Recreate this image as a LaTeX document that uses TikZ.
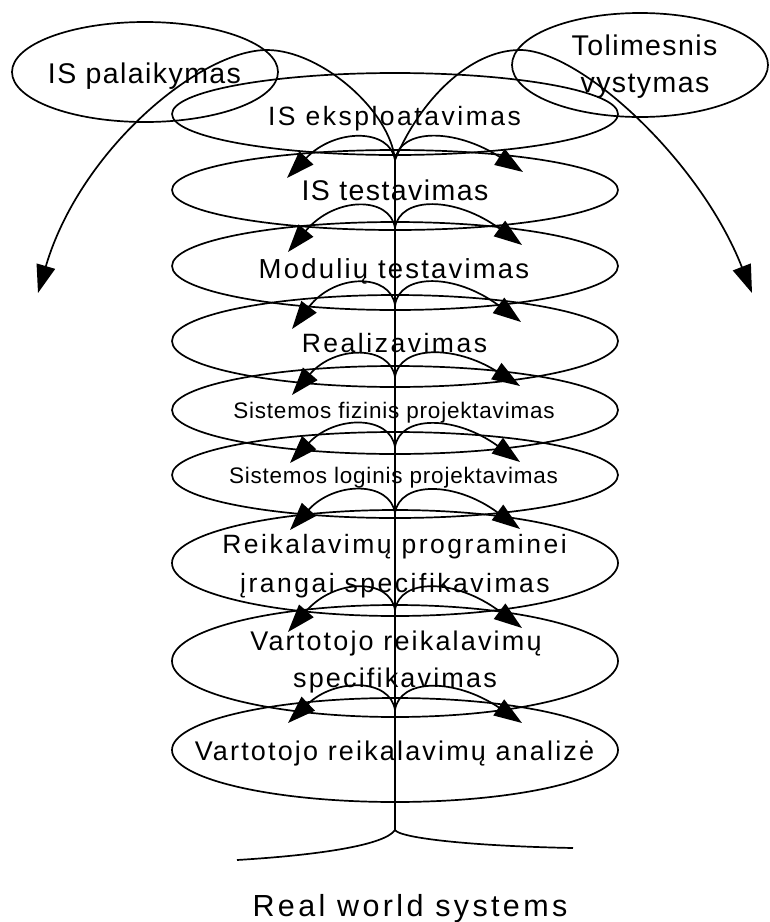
\documentclass[tikz,border=0pt]{standalone}
\usepackage{fontspec}
\setmainfont{Liberation Sans}
\newfontfamily\fLa[LetterSpace=5]{Liberation Sans}
\newfontfamily\fLb[LetterSpace=8]{Liberation Sans}
\newfontfamily\fLc[LetterSpace=9.5]{Liberation Sans}
\newfontfamily\fLs[LetterSpace=3.5]{Liberation Sans}
\newfontfamily\fLr[LetterSpace=11]{Liberation Sans}
\usetikzlibrary{arrows.meta,shapes.geometric}
\begin{document}
\begin{tikzpicture}[x=1pt,y=-1pt, line width=1.7pt,
  ell/.style={draw, ellipse, inner sep=0pt, minimum width=446pt},
  txt/.style={inner sep=0pt, anchor=base},
  arr/.style={-{Triangle[length=28pt,width=19pt]}}]
\useasboundingbox (0,0) rectangle (770,922);
% ellipses
\node[ell, minimum width=266pt, minimum height=100pt] (pal) at (145,72) {};
\node[ell, minimum width=256pt, minimum height=104pt] (tol) at (640,65) {};
\node[ell, minimum height=82pt] (eks) at (395,114) {};
\node[ell, minimum height=80pt] (tst) at (395,190) {};
\node[ell, minimum height=88pt] (mod) at (395,266) {};
\node[ell, minimum height=92pt] (rea) at (395,341) {};
\node[ell, minimum height=88pt] (fiz) at (395,410) {};
\node[ell, minimum height=86pt] (log) at (395,475) {};
\node[ell, minimum height=106pt] (rei) at (395,563) {};
\node[ell, minimum height=112pt] (vrs) at (395,661) {};
\node[ell, minimum height=104pt] (ana) at (395,750) {};
% texts
\node[txt, font=\fLa\fontsize{28.5}{34}\selectfont] (palT) at (144.5,83) {IS palaikymas};
\node[txt, font=\fLa\fontsize{28.5}{34}\selectfont] (tolT1) at (644.5,55) {Tolimesnis};
\node[txt, font=\fLa\fontsize{28.5}{34}\selectfont] (tolT2) at (645,92) {vystymas};
\node[txt, font=\fLc\fontsize{26.5}{34}\selectfont] (eksT) at (394.5,125) {IS eksploatavimas};
\node[txt, font=\fLa\fontsize{28.5}{34}\selectfont] (tstT) at (395,200) {IS testavimas};
\node[txt, font=\fLb\fontsize{27.5}{34}\selectfont] (modT) at (394,278) {Modulių testavimas};
\node[txt, font=\fLc\fontsize{26.5}{34}\selectfont] (reaT) at (394.5,352) {Realizavimas};
\node[txt, font=\fLs\fontsize{22.5}{30}\selectfont] (fizT) at (394,418) {Sistemos fizinis projektavimas};
\node[txt, font=\fLs\fontsize{22.5}{30}\selectfont] (logT) at (393.5,483) {Sistemos loginis projektavimas};
\node[txt, font=\fLc\fontsize{26.5}{34}\selectfont] (reiT1) at (394.5,553) {Reikalavimų programinei};
\node[txt, font=\fLc\fontsize{26.5}{34}\selectfont] (reiT2) at (395,592) {įrangai specifikavimas};
\node[txt, font=\fLb\fontsize{27}{34}\selectfont] (vrsT1) at (396,650) {Vartotojo reikalavimų};
\node[txt, font=\fLb\fontsize{27}{34}\selectfont] (vrsT2) at (395,687) {specifikavimas};
\node[txt, font=\fLb\fontsize{27}{34}\selectfont] (anaT) at (394.5,760) {Vartotojo reikalavimų analizė};
\node[txt, font=\fLr\fontsize{30.5}{36}\selectfont] (realT) at (410,916) {Real world systems};
% stem
\coordinate (top) at (395,160);
\coordinate (root) at (395,830);
\draw (top) -- (root);
% big branches
\coordinate (lt) at (38,293);
\coordinate (rt) at (752,293);
\draw[arr] (top) .. controls (390,110) and (320,50) .. (267,50)
  .. controls (200,50) and (80,150) .. (lt);
\draw[arr] (top) .. controls (420,100) and (470,50) .. (520,50)
  .. controls (580,50) and (700,160) .. (rt);
% small arcs
\foreach \i/\cy/\xl/\yl/\xr/\yr in {1/160/287/178/523/172, 2/228/288/252/522/245,
  3/305/292/329/521/322, 4/377/292/395/520/386, 5/447/290/463/520/462,
  6/513/290/530/520/529, 7/610/288/632/522/628, 8/710/288/723/522/723} {
  \coordinate (c\i) at (395,\cy);
  \coordinate (l\i) at (\xl,\yl);
  \coordinate (r\i) at (\xr,\yr);
  \draw[arr] (c\i) .. controls (390,\cy-32) and (335,\cy-32) .. (l\i);
  \draw[arr] (c\i) .. controls (400,\cy-32) and (455,\cy-32) .. (r\i);
}
% roots
\coordinate (rootL) at (237,860);
\coordinate (rootR) at (573,848);
\draw (root) .. controls (385,845) and (320,855) .. (rootL);
\draw (root) .. controls (400,838) and (470,846) .. (rootR);
\end{tikzpicture}
\end{document}
